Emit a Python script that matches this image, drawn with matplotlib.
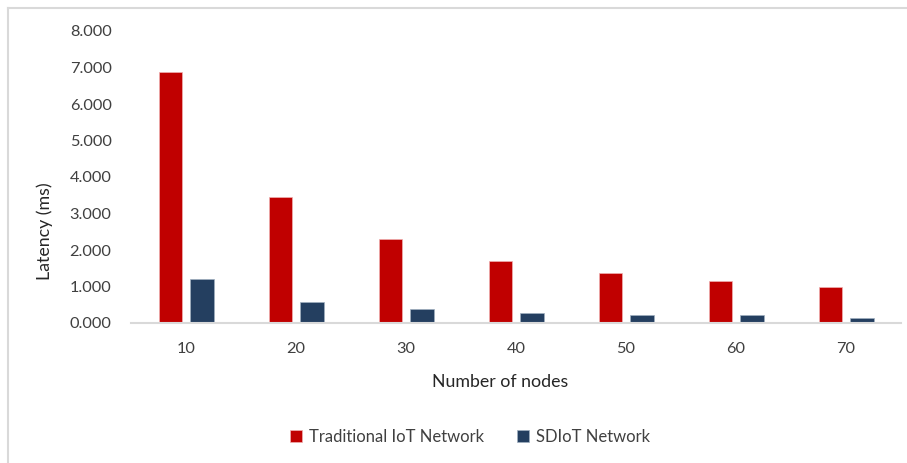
import numpy as np
import matplotlib.pyplot as plt
from matplotlib.lines import Line2D

# 数据
nodes = ["10", "20", "30", "40", "50", "60", "70"]
traditional = [6.88, 3.45, 2.30, 1.70, 1.36, 1.14, 0.98]
sdiot = [1.20, 0.58, 0.38, 0.27, 0.23, 0.21, 0.15]

plt.rcParams['font.family'] = ['Lato', 'DejaVu Sans']

fig = plt.figure(figsize=(9.07, 4.63), dpi=100)
W, H = 907, 463
# 坐标区: x 131..901, y 31..323 (像素)
ax = fig.add_axes([131 / W, 1 - 323 / H, (901 - 131) / W, (323 - 31) / H])

x = np.arange(len(nodes))
w = 0.218
off = 0.141
ax.bar(x - off, traditional, w, color="#C00000", edgecolor="#f0b0b0", linewidth=0.5,
       label="Traditional IoT Network")
ax.bar(x + off, sdiot, w, color="#243F60", edgecolor="#a0b0c0", linewidth=0.5,
       label="SDIoT Network")

ax.set_xlim(-0.5, len(nodes) - 0.5)
ax.set_ylim(0, 8)
ax.set_yticks(np.arange(0, 9, 1))
ax.set_yticklabels([f"{v:.3f}" for v in range(9)])
ax.set_xticks(x)
ax.set_xticklabels(nodes)
ax.tick_params(length=0, labelsize=11.8, colors="#404040")
ax.tick_params(axis="y", pad=14)
ax.tick_params(axis="x", pad=14)

for s in ["top", "right", "left"]:
    ax.spines[s].set_visible(False)
ax.spines["bottom"].set_color("#d9d9d9")
ax.spines["bottom"].set_linewidth(1.5)

fig.text(500 / W, 1 - 382 / H, "Number of nodes", ha="center", va="center",
         fontsize=12.8, color="#262626")
fig.text(45 / W, 1 - 231 / H, "Latency (ms)", ha="center", va="center",
         rotation=90, fontsize=12.8, color="#262626")

fig.legend(loc="center", bbox_to_anchor=(470 / W, 1 - 437 / H), ncol=2,
           frameon=False, fontsize=12, handlelength=0.7, handleheight=0.7,
           handletextpad=0.4, columnspacing=2.0, labelcolor="#404040")

# 外框 (左/上)
fig.add_artist(Line2D([8 / W, 8 / W], [0, 1 - 8 / H], color="#d9d9d9", linewidth=1.5))
fig.add_artist(Line2D([8 / W, 1], [1 - 8 / H, 1 - 8 / H], color="#d9d9d9", linewidth=1.5))

fig.savefig("out.png", dpi=100)
